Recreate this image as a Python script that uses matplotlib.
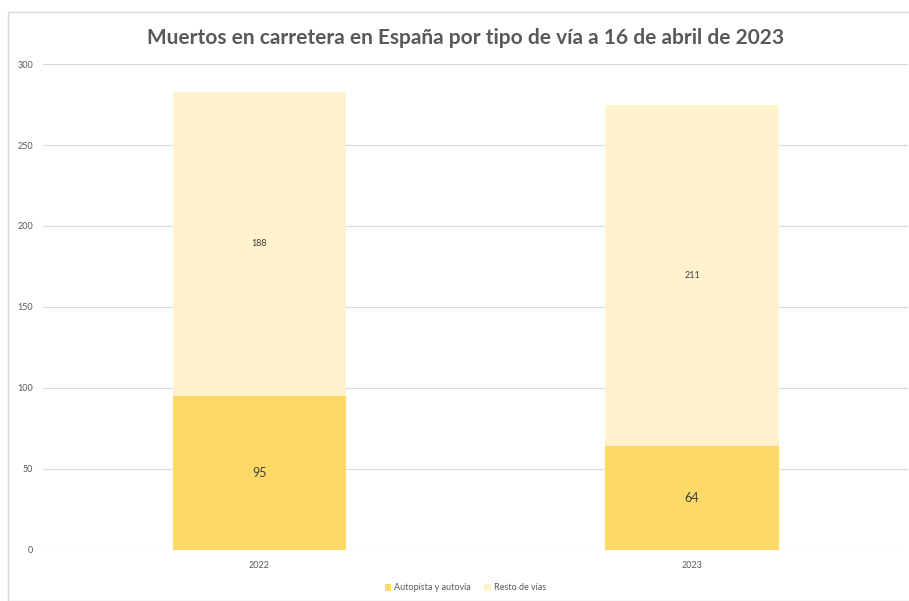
import matplotlib
matplotlib.use("Agg")
from matplotlib import pyplot as plt
from matplotlib.patches import Rectangle
import numpy as np

plt.rcParams['font.family'] = ['Lato', 'DejaVu Sans']

# data
years = ["2022", "2023"]
autopista = [95, 64]
resto = [188, 211]
series_names = ["Autopista y autovía", "Resto de vías"]

DARK = "#FFD966"
LIGHT = "#FFF2CC"
TXT = "#595959"

fig = plt.figure(figsize=(9.09, 6.01), dpi=100)
ax = fig.add_axes([0.0473, 0.0849, 0.952, 0.8086])

# chart frame
fig.patches.append(Rectangle((8 / 909, 0), 1.0, 1 - 12 / 601, transform=fig.transFigure,
                             fill=False, edgecolor="#D9D9D9", linewidth=1.0))

x = np.arange(len(years))
b1 = ax.bar(x, autopista, width=0.4, color=DARK, label=series_names[0], zorder=3)
b2 = ax.bar(x, resto, width=0.4, bottom=autopista, color=LIGHT, label=series_names[1], zorder=3)

for rect, v in zip(b1, autopista):
    ax.text(rect.get_x() + rect.get_width() / 2, rect.get_y() + v / 2, str(v),
            ha="center", va="center", fontsize=9, color="#404040", zorder=4)
for rect, v, b in zip(b2, resto, autopista):
    ax.text(rect.get_x() + rect.get_width() / 2, b + v / 2, str(v),
            ha="center", va="center", fontsize=6.5, color="#404040", zorder=4)

ax.set_xlim(-0.5, 1.5)
ax.set_ylim(0, 300)
ax.set_yticks(range(0, 301, 50))
ax.set_xticks(x)
ax.set_xticklabels(years)
ax.grid(axis="y", color="#D9D9D9", linewidth=0.8, zorder=0)
for s in ax.spines.values():
    s.set_visible(False)
ax.tick_params(axis="both", length=0, labelsize=6.5, colors=TXT)
ax.tick_params(axis="y", pad=7)
ax.tick_params(axis="x", pad=8)

fig.text(0.512, 1 - 38 / 601, "Muertos en carretera en España por tipo de vía a 16 de abril de 2023",
         ha="center", va="center", fontsize=15, fontweight="bold", color=TXT)

fig.legend(loc="center", bbox_to_anchor=(0.512, 1 - 588 / 601), ncol=2, frameon=False,
           fontsize=6.5, labelcolor=TXT, handlelength=0.7, handleheight=0.7,
           handletextpad=0.3, columnspacing=1.5)

fig.savefig("out.png", dpi=100)
